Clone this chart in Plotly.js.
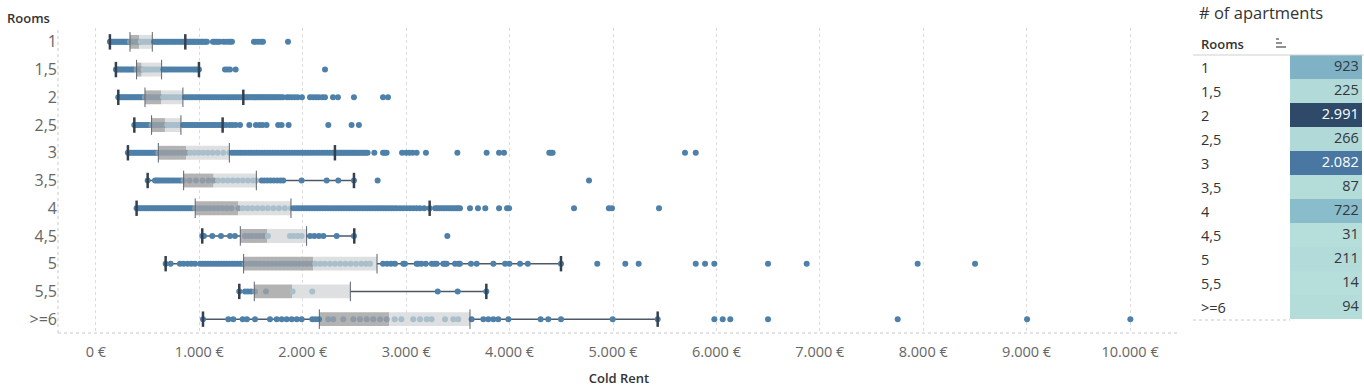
<!DOCTYPE html>
<html><head><meta charset="utf-8">
<script src="https://cdn.plot.ly/plotly-3.0.1.min.js"></script>
<style>html,body{margin:0;padding:0;background:#fff}#chart{width:1364px;height:387px}</style>
</head><body><div id="chart"></div>
<script>
const rooms = ['1','1,5','2','2,5','3','3,5','4','4,5','5','5,5','>=6'];
const apartmentCounts = [923,225,2991,266,2082,87,722,31,211,14,94];
const lowerWhisker = [135,193,216,371,309,500,393,1028,674,1386,1035];
const q1 = [329,393,474,538,603,848,960,1396,1428,1531,2160];
const median = [419,442,629,667,874,1138,1377,1654,2102,1896,2837];
const q3 = [545,635,841,822,1290,1551,1886,2037,2718,2460,3617];
const upperWhisker = [864,996,1425,1225,2311,2495,3227,2498,4497,3775,5432];
const xTicks = [0,1000,2000,3000,4000,5000,6000,7000,8000,9000,10000];

const rent_1 = [135,148,160,172,185,199,210,224,238,251,263,277,290,302,315,329,342,356,371,388,402,419,433,451,468,486,503,522,545,562,578,596,611,629,647,664,683,700,719,738,756,774,793,811,830,848,864,872,884,897,909,921,936,948,960,975,989,1003,1018,1031,1046,1060,1073,1131,1145,1162,1178,1196,1231,1252,1278,1296,1315,1528,1545,1571,1598,1615,1857];
const rent_1_5 = [193,207,221,238,252,270,286,303,318,337,352,371,393,410,427,442,461,483,502,526,548,571,597,619,635,652,671,690,712,733,755,778,801,823,846,869,892,914,938,957,977,996,1248,1272,1296,1351,2215];
const rent_2 = [216,231,248,262,279,295,311,328,343,360,377,392,409,425,441,458,474,492,512,533,556,579,604,629,652,677,703,729,756,782,810,841,862,884,907,929,951,975,998,1021,1044,1068,1091,1115,1138,1162,1186,1210,1233,1257,1281,1305,1329,1353,1377,1401,1425,1438,1452,1467,1481,1496,1512,1527,1543,1558,1574,1590,1606,1622,1638,1655,1671,1688,1704,1721,1738,1755,1772,1790,1808,1847,1866,1893,1921,1950,1992,2070,2098,2127,2153,2188,2215,2292,2340,2495,2776,2824];
const rent_2_5 = [371,389,408,426,447,468,489,511,538,560,583,607,631,667,690,712,737,761,784,803,822,845,867,889,911,934,956,979,1001,1024,1046,1069,1091,1114,1136,1158,1181,1203,1225,1230,1258,1292,1320,1351,1393,1483,1547,1582,1611,1650,1762,1795,1863,2247,2472,2543];
const rent_3 = [309,326,342,360,376,393,410,427,445,462,479,497,514,532,549,567,585,603,631,662,694,727,761,796,834,874,911,952,994,1037,1081,1127,1176,1231,1290,1316,1343,1370,1396,1422,1448,1475,1501,1527,1553,1580,1606,1632,1658,1685,1711,1737,1763,1790,1816,1842,1868,1895,1921,1947,1973,1999,2026,2052,2078,2104,2131,2157,2183,2209,2236,2262,2288,2311,2326,2342,2358,2374,2390,2406,2422,2439,2455,2471,2488,2504,2521,2538,2556,2574,2592,2609,2627,2692,2776,2794,2811,2960,2998,3030,3062,3101,3191,3495,3778,3898,3946,4384,4400,4416,5696,5800];
const rent_3_5 = [500,571,589,607,627,648,669,690,712,735,758,782,806,828,848,905,967,1030,1088,1138,1180,1228,1275,1323,1371,1420,1470,1519,1551,1602,1628,1657,1688,1720,1752,1783,1811,1989,2231,2343,2495,2724,4768];
const rent_4 = [393,412,431,450,470,489,508,528,547,566,586,605,624,644,663,682,702,721,740,760,779,798,818,837,856,876,895,914,934,960,995,1030,1066,1103,1142,1182,1224,1267,1312,1377,1420,1466,1513,1561,1611,1662,1715,1770,1827,1886,1911,1937,1962,1988,2013,2039,2064,2090,2116,2141,2167,2192,2218,2243,2269,2295,2320,2346,2371,2397,2422,2448,2474,2499,2525,2550,2576,2601,2627,2653,2678,2704,2729,2755,2780,2806,2832,2857,2883,2908,2940,2972,3004,3037,3069,3101,3133,3175,3227,3280,3301,3323,3346,3368,3391,3414,3437,3459,3481,3500,3520,3617,3694,3765,3898,3975,3995,4623,4960,4990,5445];
const rent_4_5 = [1028,1044,1125,1209,1296,1344,1441,1478,1512,1549,1583,1621,1663,1876,1912,1951,1989,2070,2112,2156,2199,2328,2495,3398];
const rent_5 = [674,722,812,848,886,921,957,1006,1031,1057,1083,1109,1136,1162,1188,1214,1240,1266,1292,1318,1344,1370,1396,1422,1441,1480,1515,1552,1588,1626,1663,1701,1738,1776,1814,1852,1889,1927,1965,2003,2041,2080,2121,2168,2214,2262,2311,2362,2412,2463,2515,2566,2612,2650,2776,2815,2853,2892,2972,2988,3101,3117,3147,3189,3247,3272,3295,3359,3375,3391,3472,3504,3520,3627,3682,3843,3956,3998,4101,4176,4497,4848,5119,5248,5800,5890,5980,6499,6873,7946,8501];
const rent_5_5 = [1386,1441,1470,1500,1538,1644,1902,2092,3305,3498,3775];
const rent_6 = [1035,1280,1328,1419,1460,1538,1683,1748,1796,1844,1893,1941,1989,2092,2124,2157,2246,2295,2392,2489,2553,2618,2682,2747,2811,2889,2953,3068,3133,3198,3246,3376,3456,3504,3633,3746,3794,3843,3891,3988,4300,4374,4497,4997,5432,5980,6061,6134,6499,7753,9004,10003];

const rentsByRoom = [rent_1,rent_1_5,rent_2,rent_2_5,rent_3,rent_3_5,rent_4,rent_4_5,rent_5,rent_5_5,rent_6];

// pixel helpers for decoration placement
const W = 1364, H = 387;
const px = x => x / W, py = y => (H - y) / H;

const ptX = [], ptY = [], ptC = [];
rentsByRoom.forEach((arr, i) => {
  arr.forEach(v => {
    ptX.push(v); ptY.push(rooms[i]);
    if (v >= q1[i] && v <= median[i]) ptC.push('#8f9ca7');
    else if (v > median[i] && v <= q3[i]) ptC.push('#a9bfcc');
    else ptC.push('#4e80a9');
  });
});

const wX = [], wY = [];
rooms.forEach((r, i) => {
  wX.push(lowerWhisker[i], q1[i], null, q3[i], upperWhisker[i], null);
  wY.push(r, r, null, r, r, null);
});

const traces = [
  { type:'bar', orientation:'h', y:rooms, base:q1, x:median.map((m,i)=>m-q1[i]), width:0.5,
    marker:{color:'#b3b3b3'}, xaxis:'x', yaxis:'y', hoverinfo:'skip' },
  { type:'bar', orientation:'h', y:rooms, base:median, x:q3.map((q,i)=>q-median[i]), width:0.5,
    marker:{color:'#dedfe0'}, xaxis:'x', yaxis:'y', hoverinfo:'skip' },
  { type:'scatter', mode:'lines', x:wX, y:wY, line:{color:'#4d5966', width:1.5}, connectgaps:false, hoverinfo:'skip' },
  { type:'scatter', mode:'markers', x:ptX, y:ptY, marker:{color:ptC, size:6, line:{width:0}}, hoverinfo:'skip' },
  { type:'scatter', mode:'markers', x:q1.concat(q3), y:rooms.concat(rooms),
    marker:{symbol:'line-ns', size:14, line:{color:'#5a6470', width:1}}, hoverinfo:'skip' },
  { type:'scatter', mode:'markers', x:lowerWhisker.concat(upperWhisker), y:rooms.concat(rooms),
    marker:{symbol:'line-ns', size:11, line:{color:'#34404e', width:2.5}}, hoverinfo:'skip' },
  // table of counts
  { type:'bar', orientation:'h', y:rooms, x:apartmentCounts.map(()=>1), width:1,
    marker:{color:apartmentCounts, cmin:14, cmax:2991, line:{width:0},
      colorscale:[[0,'#b6dedb'],[0.08,'#b1dad8'],[0.238,'#8abdcb'],[0.305,'#7fb2c5'],[0.695,'#4a77a2'],[1,'#2f4a69']]},
    xaxis:'x2', yaxis:'y2', hoverinfo:'skip' },
  { type:'scatter', mode:'text', y:rooms, x:apartmentCounts.map(()=>0.955),
    text:apartmentCounts.map(c=>c.toLocaleString('de-DE')), textposition:'middle left', cliponaxis:false,
    textfont:{family:'Open Sans', size:14.5, color:apartmentCounts.map(c=>c>=2000?'#ffffff':'#333840')},
    xaxis:'x2', yaxis:'y2', hoverinfo:'skip' }
];

const annotations = [
  { text:'Rooms', xref:'paper', yref:'paper', x:px(5), y:py(18), xanchor:'left', yanchor:'middle', showarrow:false,
    font:{family:'Open Sans', size:13, color:'#333', weight:600} },
  { text:'# of apartments', xref:'paper', yref:'paper', x:px(1197), y:py(12), xanchor:'left', yanchor:'middle', showarrow:false,
    font:{family:'Open Sans', size:16.5, color:'#333'} },
  { text:'Rooms', xref:'paper', yref:'paper', x:px(1199), y:py(44), xanchor:'left', yanchor:'middle', showarrow:false,
    font:{family:'Open Sans', size:13, color:'#333', weight:600} }
];
rooms.forEach((r, i) => annotations.push({ text:r, xref:'paper', yref:'y2', x:px(1199), y:i, xanchor:'left', yanchor:'middle',
  showarrow:false, font:{family:'Open Sans', size:14.5, color:'#333'} }));

const shapes = [
  { type:'line', xref:'x domain', yref:'y domain', x0:0, x1:0, y0:0, y1:1, line:{color:'#c8c8c8', width:1, dash:'dot'} },
  { type:'line', xref:'x domain', yref:'y domain', x0:0, x1:1, y0:0, y1:0, line:{color:'#c8c8c8', width:1, dash:'dot'} },
  { type:'line', xref:'paper', yref:'paper', x0:px(1193), x1:1, y0:py(55), y1:py(55), line:{color:'#cfcfcf', width:1} },
  { type:'line', xref:'paper', yref:'paper', x0:px(1193), x1:px(1290), y0:py(320), y1:py(320), line:{color:'#c8c8c8', width:1, dash:'dot'} },
  { type:'line', xref:'paper', yref:'paper', x0:px(1276), x1:px(1279), y0:py(39), y1:py(39), line:{color:'#555', width:1.3} },
  { type:'line', xref:'paper', yref:'paper', x0:px(1276), x1:px(1282), y0:py(43), y1:py(43), line:{color:'#555', width:1.3} },
  { type:'line', xref:'paper', yref:'paper', x0:px(1276), x1:px(1286), y0:py(47), y1:py(47), line:{color:'#555', width:1.3} }
];

const layout = {
  width:W, height:H, margin:{l:0, r:0, t:0, b:0},
  paper_bgcolor:'#fff', plot_bgcolor:'#fff', showlegend:false, hovermode:false,
  barmode:'overlay', separators:',.',
  font:{family:'Open Sans', color:'#555'},
  xaxis:{ domain:[px(58), px(1180)], range:[-367, 10483], autorange:false, tickvals:xTicks,
    ticktext:xTicks.map(v => v.toLocaleString('de-DE') + ' €'),
    showgrid:true, gridcolor:'#dcdcdc', griddash:'dot', gridwidth:1, zeroline:false, showline:false, ticks:'',
    ticklabelstandoff:8,
    tickfont:{family:'Open Sans', size:14.5, color:'#666'}, anchor:'y',
    title:{text:'Cold Rent', font:{family:'Open Sans', size:13, color:'#333', weight:600}, standoff:20} },
  yaxis:{ domain:[py(333), py(28)], type:'category', categoryorder:'array', categoryarray:rooms,
    range:[10.5, -0.5], autorange:false,
    showgrid:false, zeroline:false, showline:false, ticks:'', anchor:'x',
    tickfont:{family:'Open Sans', size:16, color:'#666'} },
  xaxis2:{ domain:[px(1290), px(1362)], range:[0,1], autorange:false, visible:false, anchor:'y2', fixedrange:true },
  yaxis2:{ domain:[py(319), py(55)], type:'category', categoryorder:'array', categoryarray:rooms,
    range:[10.5, -0.5], autorange:false, visible:false, anchor:'x2' },
  annotations, shapes
};

Plotly.newPlot('chart', traces, layout, {staticPlot:true, displayModeBar:false});
</script></body></html>
